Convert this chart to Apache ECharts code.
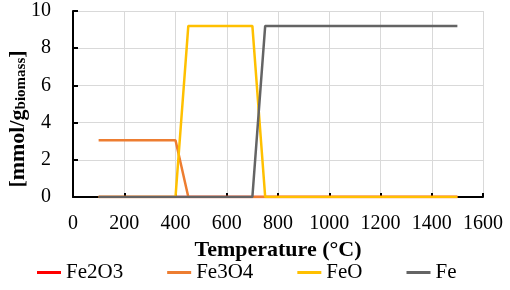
<!DOCTYPE html>
<html>
<head>
<meta charset="utf-8">
<script src="https://cdn.jsdelivr.net/npm/echarts@6/dist/echarts.min.js"></script>
<style>
  html, body { margin: 0; padding: 0; background: #fff; }
  #chart { width: 510px; height: 290px; }
</style>
</head>
<body>
<div id="chart"></div>
<script>
// temperatures (°C) where the profile changes
const temps = [100, 400, 450, 700, 750, 1500];
// amounts in mmol per g biomass
const fe2o3 = [0, 0, 0, 0, 0, 0];
const fe3o4 = [3.05, 3.05, 0, 0, 0, 0];
const feo = [0, 0, 9.2, 9.2, 0, 0];
const fe = [0, 0, 0, 0, 9.2, 9.2];

const names = ["Fe2O3", "Fe3O4", "FeO", "Fe"];
const colors = ["#ff0000", "#ed7d31", "#ffc000", "#646464"];
const values = [fe2o3, fe3o4, feo, fe];

const font = "Liberation Serif";

const chart = echarts.init(document.getElementById("chart"));

const series = names.map((name, i) => ({
  name,
  type: "line",
  symbol: "none",
  color: colors[i],
  lineStyle: { width: 2.5, color: colors[i] },
  data: temps.map((t, j) => [t, values[i][j]]),
}));

chart.setOption({
  animation: false,
  textStyle: { fontFamily: font, color: "#000" },
  grid: { left: 73, right: 27, top: 11, bottom: 93, outerBoundsMode: "none" },
  legend: {
    left: 32,
    bottom: 2,
    itemGap: 44,
    itemWidth: 24,
    itemHeight: 3,
    icon: "rect",
    textStyle: { fontFamily: font, fontSize: 21, color: "#000" },
    data: names,
  },
  xAxis: {
    type: "value",
    min: 0,
    max: 1600,
    interval: 200,
    name: "Temperature (°C)",
    nameLocation: "middle",
    nameGap: 42,
    nameTextStyle: { fontFamily: font, fontSize: 22, fontWeight: "bold", color: "#000" },
    axisLine: { lineStyle: { color: "#000", width: 2 } },
    axisTick: { show: true, inside: true, length: 4, lineStyle: { color: "#000", width: 2 } },
    axisLabel: {
      fontFamily: font, fontSize: 20, color: "#000", margin: 17,
      formatter: (v) => String(v),
    },
    splitLine: { show: true, lineStyle: { color: "#d9d9d9", width: 1 } },
  },
  yAxis: {
    type: "value",
    min: 0,
    max: 10,
    interval: 2,
    name: "{a|[mmol/g}{b|biomass}{a|]}",
    nameLocation: "middle",
    nameRotate: 90,
    nameGap: 44,
    nameMoveOverlap: false,
    nameTextStyle: {
      padding: [0, 30, 0, 0],
      rich: {
        a: { fontFamily: font, fontSize: 22, fontWeight: "bold", color: "#000", verticalAlign: "bottom", lineHeight: 26 },
        b: { fontFamily: font, fontSize: 15, fontWeight: "bold", color: "#000", verticalAlign: "bottom", lineHeight: 26, padding: [6, 0, 0, 0] },
      },
    },
    axisLine: { show: true, lineStyle: { color: "#000", width: 2 } },
    axisTick: { show: true, inside: true, length: 5, lineStyle: { color: "#000", width: 2 } },
    axisLabel: { fontFamily: font, fontSize: 20, color: "#000", margin: 22 },
    splitLine: { show: true, lineStyle: { color: "#d9d9d9", width: 1 } },
  },
  series,
});
</script>
</body>
</html>
